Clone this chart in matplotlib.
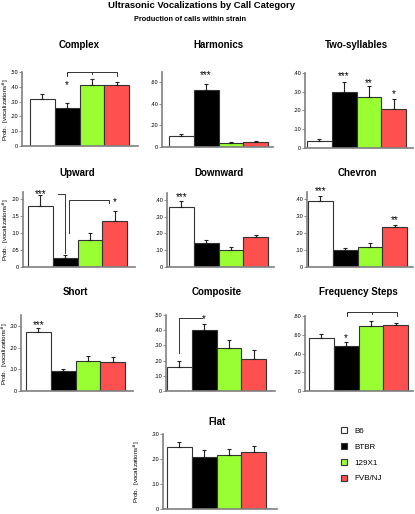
import numpy as np
import matplotlib
matplotlib.use("Agg")
import matplotlib.pyplot as plt
from matplotlib.patches import Patch
from matplotlib.ticker import FuncFormatter

plt.rcParams["font.family"] = ["Liberation Sans", "DejaVu Sans"]

# --- data -------------------------------------------------------------
strains = ["B6", "BTBR", "129X1", "FVB/NJ"]
colors = ["#FFFFFF", "#000000", "#99FF33", "#FF5050"]

categories = ["Complex", "Harmonics", "Two-syllables",
              "Upward", "Downward", "Chevron",
              "Short", "Composite", "Frequency Steps",
              "Flat"]

means = [
    [0.32, 0.26, 0.41, 0.41],
    [0.10, 0.52, 0.04, 0.045],
    [0.04, 0.30, 0.27, 0.21],
    [0.18, 0.025, 0.08, 0.135],
    [0.355, 0.14, 0.10, 0.18],
    [0.385, 0.10, 0.115, 0.235],
    [0.27, 0.09, 0.14, 0.135],
    [0.155, 0.40, 0.285, 0.21],
    [0.57, 0.48, 0.69, 0.70],
    [0.25, 0.21, 0.215, 0.228],
]
sems = [
    [0.03, 0.03, 0.04, 0.025],
    [0.02, 0.06, 0.005, 0.01],
    [0.01, 0.05, 0.06, 0.05],
    [0.03, 0.01, 0.02, 0.03],
    [0.04, 0.02, 0.02, 0.01],
    [0.03, 0.01, 0.025, 0.01],
    [0.02, 0.01, 0.02, 0.02],
    [0.04, 0.04, 0.05, 0.06],
    [0.04, 0.04, 0.06, 0.03],
    [0.02, 0.025, 0.025, 0.025],
]
# significance marks: (bar, height, label)
stars = [
    [(1, 0.41, "*")],
    [(1, 0.66, "***")],
    [(1, 0.385, "***"), (2, 0.345, "**"), (3, 0.285, "*")],
    [(0, 0.213, "***"), (3, 0.19, "*")],
    [(0, 0.415, "***")],
    [(0, 0.445, "***"), (3, 0.275, "**")],
    [(0, 0.305, "***")],
    [(1, 0.475, "*")],
    [(1, 0.56, "*")],
    [],
]
# comparison brackets as polylines (bar position, height)
brackets = [
    [[(1, 0.47), (1, 0.50), (3, 0.50), (3, 0.47)], [(2, 0.50), (2, 0.485)]],
    [],
    [],
    [[(0.72, 0.215), (1.0, 0.215), (1.0, 0.04)],
     [(1.14, 0.10), (1.14, 0.197), (2.78, 0.197), (2.78, 0.188)]],
    [],
    [],
    [],
    [[(0.0, 0.25), (0.0, 0.48), (0.9, 0.48)]],
    [[(1.03, 0.80), (1.03, 0.84), (3.05, 0.84), (3.05, 0.80)], [(2.05, 0.84), (2.05, 0.82)]],
    [],
]

# --- layout (pixels) --------------------------------------------------
W, H = 415, 514
BW = 24.75
# left, right, bottom, top, ymax, ystep, first bar px
layout = [
    (22, 138, 146, 72, 0.50, 0.1, 30),
    (162, 273, 147, 72, 0.69, 0.2, 169),
    (305, 413, 148, 73, 0.40, 0.1, 307),
    (23, 135, 267, 192, 0.22, 0.05, 28),
    (167, 274, 267, 193, 0.44, 0.1, 169),
    (307, 413, 267, 192, 0.44, 0.1, 308),
    (21, 133, 391, 315, 0.35, 0.1, 26),
    (166, 275, 391, 315, 0.50, 0.1, 167),
    (305, 413, 391, 316, 0.80, 0.2, 309),
    (163, 277, 509, 434, 0.30, 0.1, 167),
]
title_y = [45, 45, 45, 173, 173, 173, 292, 292, 292, 422]
# x pixel of the y-label centre (None = no label)
ylabel_x = [6.0, None, None, 6.0, None, None, 5.0, None, None, 137]


def tick_fmt(v, pos):
    if abs(v) < 1e-9:
        return "0"
    return "." + f"{v:.2f}".split(".")[1]


fig = plt.figure(figsize=(W / 100, H / 100), dpi=100)

fig.text(201 / W, 1 - 5 / H, "Ultrasonic Vocalizations by Call Category",
         ha="center", va="center", fontsize=6.8, fontweight="bold")
fig.text(190 / W, 1 - 19.5 / H, "Production of calls within strain",
         ha="center", va="center", fontsize=5.3, fontweight="bold")

x = np.arange(len(strains))
for i, cat in enumerate(categories):
    left, right, bottom, top, ymax, ystep, bstart = layout[i]
    ax = fig.add_axes([left / W, 1 - bottom / H, (right - left) / W, (bottom - top) / H])
    x0 = -0.5 - (bstart - left) / BW
    ax.set_xlim(x0, x0 + (right - left) / BW)
    ax.set_ylim(0, ymax)

    ax.bar(x, means[i], width=1.0, color=colors, edgecolor="#333333", linewidth=0.8, zorder=2)
    ax.errorbar(x, means[i], yerr=[np.zeros(4), sems[i]], fmt="none",
                ecolor="#222222", elinewidth=0.8, capsize=1.2, capthick=0.8, zorder=3)

    for bx, by, lab in stars[i]:
        ax.text(bx, by, lab, ha="center", va="center", fontsize=7, clip_on=False)
    for line in brackets[i]:
        xs, ys = zip(*line)
        ax.plot(xs, ys, color="#333333", linewidth=0.7, clip_on=False)

    for s in ["top", "right"]:
        ax.spines[s].set_visible(False)
    for s in ["left", "bottom"]:
        ax.spines[s].set_color("#808080")
        ax.spines[s].set_linewidth(1.2)
    ax.set_xticks([])
    ax.set_yticks(np.arange(0, ymax + 1e-6, ystep))
    ax.yaxis.set_major_formatter(FuncFormatter(tick_fmt))
    ax.tick_params(axis="y", direction="out", length=2, width=0.6, color="#808080",
                   labelsize=4.0, pad=0.8)
    if ylabel_x[i] is not None:
        ax.set_ylabel(r"Prob.  [vocalizations$^{\#}$]", fontsize=4.5)
        ax.yaxis.set_label_coords((ylabel_x[i] - left) / (right - left), 0.5)
        ax.yaxis.label.set_verticalalignment("center")

    cx = (bstart + 2 * BW) / W
    fig.text(cx, 1 - title_y[i] / H, cat, ha="center", va="center",
             fontsize=7, fontweight="bold")

handles = [Patch(facecolor=c, edgecolor="#333333", linewidth=0.8) for c in colors]
fig.legend(handles, strains, loc="upper left", bbox_to_anchor=(338 / W, 1 - 424 / H),
           frameon=False, fontsize=5.8, handlelength=0.75, handleheight=0.75,
           handletextpad=0.9, labelspacing=1.0, borderaxespad=0)

fig.savefig("out.png", dpi=100)
